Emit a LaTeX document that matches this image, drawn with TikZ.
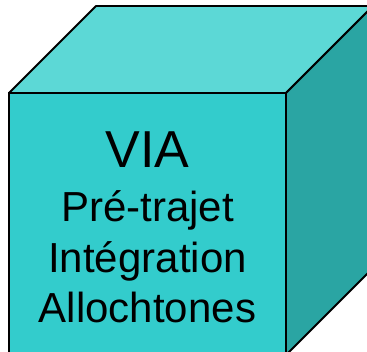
\documentclass[tikz,border=0pt]{standalone}
\usepackage{fontspec}
\setmainfont{Liberation Sans}

\definecolor{cubefront}{RGB}{51,204,204}
\definecolor{cubetop}{RGB}{92,216,214}
\definecolor{cubeside}{RGB}{42,165,163}
\def\depth{87}

\begin{document}
\begin{tikzpicture}[x=1pt, y=-1pt, every node/.style={anchor=base, inner sep=0pt}]
      \useasboundingbox (0,0) rectangle (367,351);
      \clip (0,0) rectangle (367,351);
      \filldraw[fill=cubetop, line width=1.8pt, line join=round] (9,93) -- ++(\depth,-\depth) -- (373,6) -- (286,93) -- cycle;
      \filldraw[fill=cubeside, line width=1.8pt, line join=round] (286,93) -- ++(\depth,-\depth) -- ++(0,262) -- (286,355) -- cycle;
      \filldraw[fill=cubefront, line width=1.8pt] (9,93) rectangle (286,355);
      \node (via) at (147.5,167) {\fontsize{52}{60}\selectfont VIA};
      \node (pretrajet) at (147.5,221) {\fontsize{42}{50}\selectfont Pré-trajet};
      \node (integration) at (147.5,272) {\fontsize{42}{50}\selectfont Intégration};
      \node (allochtones) at (147.5,322) {\fontsize{42}{50}\selectfont Allochtones};
\end{tikzpicture}
\end{document}
